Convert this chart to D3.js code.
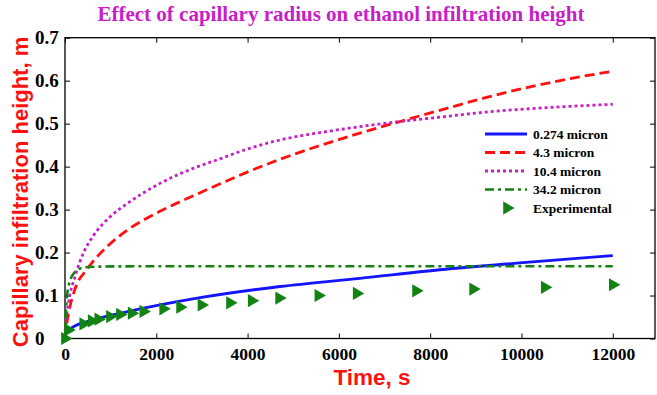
<!DOCTYPE html>
<html>
<head>
<meta charset="utf-8">
<script src="https://cdn.jsdelivr.net/npm/d3@7"></script>
<style>
    body { margin: 0; background: #fff; }
    svg { display: block; }
    .tick text { font-family: "Liberation Serif", "Times New Roman", serif; font-weight: bold; font-size: 17.5px; fill: #000; }
    .tick line { stroke: #000; stroke-width: 1; }
</style>
</head>
<body>
<div id="chart"></div>
<script>
// data (time in s, height in m)
const blueTime = [0, 150, 620, 1350, 2080, 2960, 4710, 6460, 8210, 9960, 12000];
const blueHeight = [0.012, 0.025, 0.043, 0.062, 0.078, 0.095, 0.121, 0.140, 0.160, 0.176, 0.193];

const redTime = [0, 20, 72, 219, 475, 620, 985, 1350, 2080, 2810, 3400, 3830, 4710, 5585, 6460, 7340, 8210, 9230, 10690, 12000];
const redHeight = [0, 0.02, 0.055, 0.115, 0.16, 0.18, 0.22, 0.251, 0.296, 0.332, 0.36, 0.38, 0.417, 0.449, 0.478, 0.505, 0.531, 0.561, 0.597, 0.622];

const magentaTime = [0, 20, 75, 219, 400, 620, 985, 1350, 2080, 2810, 3395, 3830, 4710, 5585, 6460, 7340, 8210, 9230, 10690, 12000];
const magentaHeight = [0, 0.035, 0.082, 0.144, 0.198, 0.239, 0.283, 0.313, 0.361, 0.396, 0.418, 0.435, 0.462, 0.479, 0.493, 0.505, 0.515, 0.527, 0.538, 0.545];

const greenTime = [0, 15, 40, 75, 120, 150, 220, 290, 400, 620, 1500, 3000, 6000, 9000, 12000];
const greenHeight = [0, 0.05, 0.095, 0.12, 0.138, 0.145, 0.155, 0.161, 0.165, 0.167, 0.168, 0.168, 0.168, 0.168, 0.168];

const expTime = [0, 70, 400, 585, 730, 985, 1205, 1460, 1715, 2150, 2520, 2990, 3615, 4090, 4690, 5550, 6390, 7690, 8940, 10510, 12000];
const expHeight = [0.0, 0.02, 0.034, 0.041, 0.045, 0.051, 0.056, 0.059, 0.063, 0.069, 0.073, 0.078, 0.083, 0.088, 0.094, 0.10, 0.105, 0.111, 0.115, 0.119, 0.125];

const xTicks = [0, 2000, 4000, 6000, 8000, 10000, 12000];
const yTicks = [0, 0.1, 0.2, 0.3, 0.4, 0.5, 0.6, 0.7];
const legendLabels = ["0.274 micron", "4.3 micron", "10.4 micron", "34.2 micron", "Experimental"];

const W = 657, H = 395;
const margin = { top: 37.7, right: 2, bottom: 56.5, left: 65 };
const width = W - margin.left - margin.right;
const height = H - margin.top - margin.bottom;

const series = [
    { time: blueTime, height: blueHeight, color: "#1414ff", dash: null, lw: 2.8 },
    { time: redTime, height: redHeight, color: "#ff1010", dash: "10,5", lw: 2.8 },
    { time: magentaTime, height: magentaHeight, color: "#c81ec8", dash: "3,3", lw: 2.8 },
    { time: greenTime, height: greenHeight, color: "#128212", dash: "9,4,3,4", lw: 2.6 }
];

const svg = d3.select("#chart")
    .append("svg")
    .attr("width", W)
    .attr("height", H);

const g = svg.append("g")
    .attr("transform", `translate(${margin.left}, ${margin.top})`);

const xScale = d3.scaleLinear().domain([0, 12925]).range([0, width]);
const yScale = d3.scaleLinear().domain([0, 0.7]).range([height, 0]);

// axes with inward ticks, box like matlab
const fmtY = d => d === 0 ? "0" : d3.format(".1f")(d);

g.append("g")
    .attr("transform", `translate(0, ${height})`)
    .call(d3.axisBottom(xScale).tickValues(xTicks).tickSizeInner(-5).tickSizeOuter(0).tickPadding(9.5).tickFormat(d3.format("d")))
    .call(a => a.select(".domain").remove());

g.append("g")
    .call(d3.axisTop(xScale).tickValues(xTicks).tickSizeInner(-5).tickSizeOuter(0).tickFormat(""))
    .call(a => a.select(".domain").remove());

g.append("g")
    .call(d3.axisLeft(yScale).tickValues(yTicks).tickSizeInner(-5).tickSizeOuter(0).tickPadding(3).tickFormat(fmtY))
    .call(a => a.select(".domain").remove())
    .call(a => a.selectAll(".tick text").attr("text-anchor", "start").attr("x", -30).style("font-size", "19px"));

g.append("g")
    .attr("transform", `translate(${width}, 0)`)
    .call(d3.axisRight(yScale).tickValues(yTicks).tickSizeInner(-5).tickSizeOuter(0).tickFormat(""))
    .call(a => a.select(".domain").remove());

g.append("rect")
    .attr("x", 0)
    .attr("y", 0)
    .attr("width", width)
    .attr("height", height)
    .attr("fill", "none")
    .attr("stroke", "#000")
    .attr("stroke-width", 1.3);

// curves
const line = d3.line()
    .x(d => xScale(d[0]))
    .y(d => yScale(d[1]))
    .curve(d3.curveMonotoneX);

series.forEach(s => {
    g.append("path")
        .datum(s.time.map((t, i) => [t, s.height[i]]))
        .attr("d", line)
        .attr("fill", "none")
        .attr("stroke", s.color)
        .attr("stroke-width", s.lw)
        .attr("stroke-dasharray", s.dash);
});

const triangle = d3.symbol(d3.symbolTriangle, 75);

g.selectAll(".exp")
    .data(expTime.map((t, i) => [t, expHeight[i]]))
    .enter()
    .append("path")
    .attr("class", "exp")
    .attr("d", triangle)
    .attr("transform", d => `translate(${xScale(d[0])}, ${yScale(d[1])}) rotate(90)`)
    .attr("fill", "#128212");

// legend
const legend = svg.append("g").attr("transform", "translate(485, 134)");
const rowGap = 18.5;

legendLabels.forEach((label, i) => {
    const row = legend.append("g").attr("transform", `translate(0, ${i * rowGap})`);
    if (i < series.length) {
        row.append("line")
            .attr("x1", 0).attr("x2", 42)
            .attr("y1", 0).attr("y2", 0)
            .attr("stroke", series[i].color)
            .attr("stroke-width", series[i].lw)
            .attr("stroke-dasharray", series[i].dash);
    } else {
        row.append("path")
            .attr("d", triangle)
            .attr("transform", "translate(22, 0) rotate(90)")
            .attr("fill", "#128212");
    }
    row.append("text")
        .attr("x", 48)
        .attr("y", 0)
        .attr("dy", "0.35em")
        .style("font-family", "'Liberation Serif', 'Times New Roman', serif")
        .style("font-weight", "bold")
        .style("font-size", "13.5px")
        .text(label);
});

// titles
svg.append("text")
    .attr("x", 341)
    .attr("y", 21)
    .attr("text-anchor", "middle")
    .style("font-family", "'Liberation Serif', 'Times New Roman', serif")
    .style("font-weight", "bold")
    .style("font-size", "21px")
    .style("fill", "#c81ec8")
    .text("Effect of capillary radius on ethanol infiltration height");

svg.append("text")
    .attr("x", 372)
    .attr("y", 385)
    .attr("text-anchor", "middle")
    .style("font-family", "'Liberation Sans', Arial, sans-serif")
    .style("font-weight", "bold")
    .style("font-size", "22.5px")
    .style("fill", "#ff1010")
    .text("Time, s");

svg.append("text")
    .attr("transform", "translate(28, 192) rotate(-90)")
    .attr("text-anchor", "middle")
    .style("font-family", "'Liberation Sans', Arial, sans-serif")
    .style("font-weight", "bold")
    .style("font-size", "22px")
    .style("fill", "#ff1010")
    .text("Capillary infiltration height, m");
</script>
</body>
</html>
